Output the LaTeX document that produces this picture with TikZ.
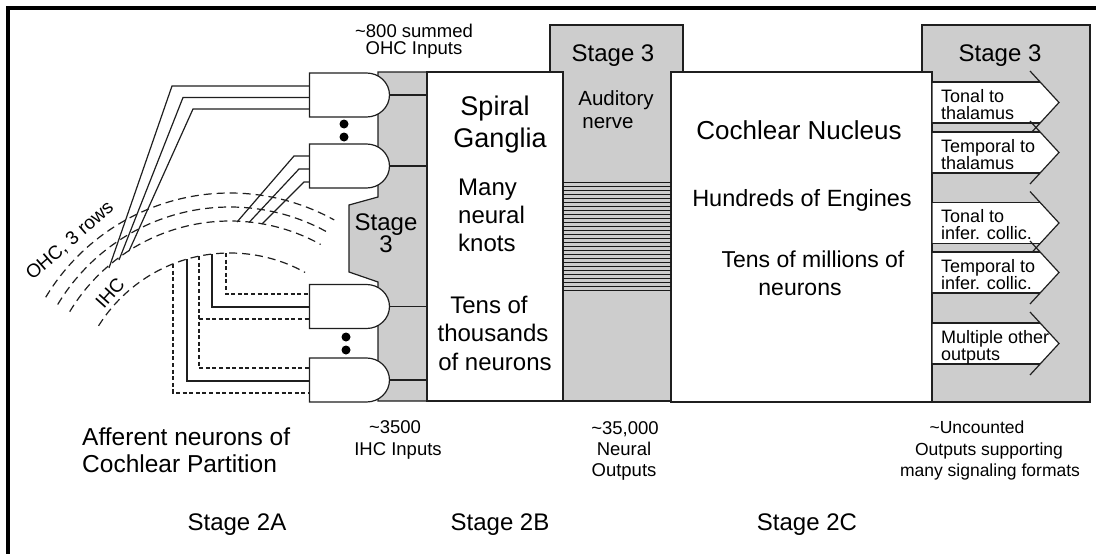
\documentclass[tikz,border=0pt]{standalone}
\usepackage{fontspec}
\setmainfont{Liberation Sans}
\definecolor{stagegray}{RGB}{205,205,205}
\newcommand\fsz[1]{\fontsize{#1}{#1}\selectfont}
\begin{document}
\begin{tikzpicture}[x=1pt,y=-1pt,line join=miter,
  ln/.style={line width=1.2pt,draw=black!88},
  boxw/.style={ln,fill=white,rectangle,inner sep=0pt,outer sep=0pt},
  boxg/.style={ln,fill=stagegray,rectangle,inner sep=0pt,outer sep=0pt},
  arcd/.style={ln,dash pattern=on 8pt off 5pt},
  dsh/.style={line width=1.1pt,draw=black!88,dash pattern=on 4pt off 2.6pt},
  lbl/.style={inner sep=0pt,anchor=base,text=black},
  lblw/.style={inner sep=0pt,anchor=base west,text=black},
  andgate/.pic={\draw[ln,fill=white] (0,-22) -- (57,-22) .. controls (69.7,-22) and (80,-12.2) .. (80,0) .. controls (80,12.2) and (69.7,22) .. (57,22) -- (0,22) -- cycle;},
  dot/.style={circle,fill=black,inner sep=0pt,minimum size=9pt}
]
\useasboundingbox (0,0) rectangle (1096,554);
% frame
\draw[line width=4pt] (7.5,560) -- (7.5,7.5) -- (1100,7.5);

% left gray region (Stage 3)
\draw[ln,fill=stagegray] (378,72) -- (427,72) -- (427,401) -- (378,401) -- (378,282) -- (349,272) -- (349,205) -- (378,197) -- cycle;
% auditory nerve column with tab
\node[boxg,minimum width=133pt,minimum height=376pt] (an) at (616.5,213) {};
% right stage 3 column
\node[boxg,minimum width=168pt,minimum height=377pt] (rg) at (1006,213.5) {};
% spiral ganglia box
\node[boxw,minimum width=136pt,minimum height=329pt] (sg) at (495,236.5) {};
% cochlear nucleus box
\node[boxw,minimum width=261pt,minimum height=330pt] (cn) at (801.5,237) {};

% auditory nerve fibres
\foreach \i in {0,...,27}{
  \draw[line width=1pt,black!90] (sg.east |- 0,{182+\i*4}) -- (cn.west |- 0,{182+\i*4});
}

% gate positions
\coordinate (g1) at (309.5,95);
\coordinate (g2) at (309.5,166);
\coordinate (g3) at (309.5,306.5);
\coordinate (g4) at (309.5,380);
\foreach \g in {g1,g2,g3,g4}{\draw[ln] (\g) -- (\g -| sg.west);}
\pic at (g1) {andgate};
\pic at (g2) {andgate};
\pic at (g3) {andgate};
\pic at (g4) {andgate};
\node[dot] (d1) at (344,124) {};
\node[dot] (d2) at (344,137) {};
\node[dot] (d3) at (346,337) {};
\node[dot] (d4) at (346,350) {};

% OHC / IHC rows (dashed arcs)
\draw[arcd] plot[domain=149:61,samples=90] ({230+215*cos(\x)},{408-215*sin(\x)});
\draw[arcd] plot[domain=149:61,samples=90] ({230+201*cos(\x)},{408-201*sin(\x)});
\draw[arcd] plot[domain=149:61,samples=90] ({230+187*cos(\x)},{408-187*sin(\x)});
\draw[arcd] plot[domain=148:61,samples=90] ({230+155*cos(\x)},{408-155*sin(\x)});

% OHC wires to gate 1
\coordinate (o1) at (109,268); \coordinate (c11) at (172,86);  \coordinate (i11) at (309.5,86);
\coordinate (o2) at (119,260); \coordinate (c12) at (183,97.5);\coordinate (i12) at (309.5,97.5);
\coordinate (o3) at (129,251); \coordinate (c13) at (193,109); \coordinate (i13) at (309.5,109);
\draw[ln] (o1) -- (c11) -- (i11);
\draw[ln] (o2) -- (c12) -- (i12);
\draw[ln] (o3) -- (c13) -- (i13);
% OHC wires to gate 2
\coordinate (o4) at (237,222); \coordinate (c21) at (294,156); \coordinate (i21) at (309.5,156);
\coordinate (o5) at (249,222.5); \coordinate (c22) at (299,169); \coordinate (i22) at (309.5,169);
\coordinate (o6) at (262,224); \coordinate (c23) at (304,182); \coordinate (i23) at (309.5,182);
\draw[ln] (o4) -- (c21) -- (i21);
\draw[ln] (o5) -- (c22) -- (i22);
\draw[ln] (o6) -- (c23) -- (i23);

% IHC wires
\coordinate (h1) at (173,264);
\coordinate (h2) at (187,259);
\coordinate (h3) at (199,256);
\coordinate (h4) at (212,254);
\coordinate (h5) at (226,253);
\coordinate (i31) at (309.5,294);
\coordinate (i32) at (309.5,307);
\coordinate (i33) at (309.5,319);
\coordinate (i41) at (309.5,368);
\coordinate (i42) at (309.5,381);
\coordinate (i43) at (309.5,393);
\draw[dsh] (h5) |- (i31);
\draw[ln] (h4) |- (i32);
\draw[dsh] (h3) |- (i41);
\draw[dsh] (h3 |- i33) -- (i33);
\draw[ln] (h2) |- (i42);
\draw[dsh] (h1) |- (i43);

% output arrows
\newcommand\outarrow[4]{%
  \fill[white] (932.6,#1-20.5) -- (1040.1,#1-20.5) -- (1059,#1) -- (1040.1,#1+20.5) -- (932.6,#1+20.5) -- cycle;
  \draw[ln] (932,#1-20.5) -- (1040.1,#1-20.5);
  \draw[ln] (932,#1+20.5) -- (1040.1,#1+20.5);
  \draw[ln] (1030,#1-31.5) -- (1059,#1) -- (1030,#1+31.5);
  \node[lblw,font=\fsz{18}] (#2a) at (941,#1-0.5) {#3};
  \node[lblw,font=\fsz{18}] (#2b) at (941,#1+16.5) {#4};
}
\outarrow{102.5}{ar1}{Tonal to}{thalamus}
\outarrow{152.5}{ar2}{Temporal to}{thalamus}
\outarrow{223}{ar3}{Tonal to}{infer. collic.}
\outarrow{272.5}{ar4}{Temporal to}{infer. collic.}
\outarrow{343.5}{ar5}{Multiple other}{outputs}

% texts
\node[rotate=41,inner sep=0pt,font=\fsz{19}] (ohc) at (70,241) {OHC, 3 rows};
\node[rotate=48,inner sep=0pt,font=\fsz{19}] (ihc) at (110,293) {IHC};

\node[lbl,font=\fsz{24}] (st3a) at (386,230) {Stage};
\node[lbl,font=\fsz{24}] (st3b) at (386,252) {3};
\node[lbl,font=\fsz{24}] (st3c) at (613,61) {Stage 3};
\node[lbl,font=\fsz{24}] (st3d) at (1000,61.5) {Stage 3};
\node[lbl,font=\fsz{20.5}] (aud1) at (616,105) {Auditory};
\node[lbl,font=\fsz{20.5}] (aud2) at (608,128) {nerve};

\node[lbl,font=\fsz{27}] (sp1) at (495,115) {Spiral};
\node[lbl,font=\fsz{27}] (sp2) at (500,147) {Ganglia};
\node[lblw,font=\fsz{24}] (mk1) at (458,195) {Many};
\node[lblw,font=\fsz{24}] (mk2) at (458,223) {neural};
\node[lblw,font=\fsz{24}] (mk3) at (458,251) {knots};
\node[lbl,font=\fsz{24}] (tt1) at (489,313) {Tens of};
\node[lbl,font=\fsz{24}] (tt2) at (493,341) {thousands};
\node[lbl,font=\fsz{24}] (tt3) at (495,370) {of neurons};

\node[lbl,font=\fsz{26}] (cn1) at (799,139) {Cochlear Nucleus};
\node[lbl,font=\fsz{23.5}] (cn2) at (802,206) {Hundreds of Engines};
\node[lbl,font=\fsz{23}] (cn3) at (813,267) {Tens of millions of};
\node[lbl,font=\fsz{23}] (cn4) at (800,295) {neurons};

\node[lbl,font=\fsz{18.5}] (oi1) at (414,37) {\textasciitilde800 summed};
\node[lbl,font=\fsz{18.5}] (oi2) at (414,54) {OHC Inputs};
\node[lbl,font=\fsz{18.5}] (ii1) at (395,433) {\textasciitilde3500};
\node[lbl,font=\fsz{18.5}] (ii2) at (398,455) {IHC Inputs};
\node[lbl,font=\fsz{18.5}] (no1) at (625,434) {\textasciitilde35,000};
\node[lbl,font=\fsz{18.5}] (no2) at (624,455) {Neural};
\node[lbl,font=\fsz{18.5}] (no3) at (624,476) {Outputs};
\node[lbl,font=\fsz{17.5}] (uo1) at (977,433) {\textasciitilde Uncounted};
\node[lbl,font=\fsz{17.5}] (uo2) at (989,455) {Outputs supporting};
\node[lbl,font=\fsz{17.5}] (uo3) at (990,476) {many signaling formats};
\node[lblw,font=\fsz{24.5}] (af1) at (82,445) {Afferent neurons of};
\node[lblw,font=\fsz{24.5}] (af2) at (82,472) {Cochlear Partition};

\node[lbl,font=\fsz{24}] (s2a) at (237,530) {Stage 2A};
\node[lbl,font=\fsz{24}] (s2b) at (500,530) {Stage 2B};
\node[lbl,font=\fsz{24}] (s2c) at (807,530) {Stage 2C};
\end{tikzpicture}
\end{document}
